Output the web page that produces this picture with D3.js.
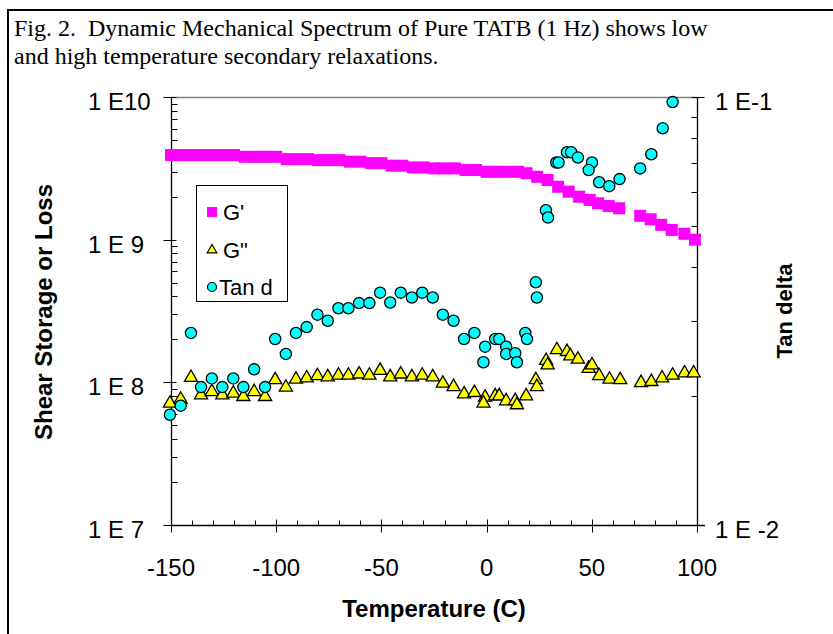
<!DOCTYPE html>
<html>
<head>
<meta charset="utf-8">
<script src="https://cdn.jsdelivr.net/npm/d3@7"></script>
<style>
  html, body { margin: 0; padding: 0; background: #fff; }
  svg { display: block; }
</style>
</head>
<body>
<svg id="chart" width="833" height="634"></svg>
<script>
// ---------------- DATA ----------------
const titleLines = [
  "Fig. 2.  Dynamic Mechanical Spectrum of Pure TATB (1 Hz) shows low",
  "and high temperature secondary relaxations."
];
const xTickValues = [-150, -100, -50, 0, 50, 100];
const xTickLabels = ["-150", "-100", "-50", "0", "50", "100"];
const leftTickValues = [1e10, 1e9, 1e8, 1e7];
const leftTickLabels = ["1 E10", "1 E 9", "1 E 8", "1 E 7"];
const rightTickValues = [1e-1, 1e-2];
const rightTickLabels = ["1 E-1", "1 E -2"];
const xTitle = "Temperature (C)";
const leftTitle = "Shear Storage or Loss";
const rightTitle = "Tan delta";
const seriesNames = ["G'", "G\"", "Tan d"];

// G' (shear storage modulus)
const gStorageT = [-150, -145, -140, -135, -130, -125, -120, -115, -110, -105, -100, -95, -90, -85, -80,
  -75, -70, -65, -60, -55, -50, -45, -40, -35, -30, -25, -20, -15, -10, -5, 0, 5, 10, 15, 19,
  24, 29, 34, 39, 44, 49, 53, 58, 63, 73, 78, 83, 88, 94, 99];
const gStorageV = [3.92e9, 3.92e9, 3.92e9, 3.92e9, 3.92e9, 3.92e9, 3.92e9, 3.81e9, 3.81e9, 3.81e9, 3.81e9, 3.67e9, 3.67e9, 3.67e9, 3.61e9,
  3.61e9, 3.61e9, 3.52e9, 3.52e9, 3.44e9, 3.44e9, 3.30e9, 3.30e9, 3.21e9, 3.21e9, 3.16e9, 3.16e9, 3.16e9, 3.08e9, 3.08e9, 2.99e9, 2.99e9, 2.99e9, 2.99e9, 2.92e9,
  2.76e9, 2.62e9, 2.35e9, 2.17e9, 2.00e9, 1.90e9, 1.80e9, 1.72e9, 1.66e9, 1.47e9, 1.39e9, 1.27e9, 1.17e9, 1.10e9, 1.00e9];

// G" (shear loss modulus)
const gLossT = [-150.5, -145.4, -140.5, -135.7, -130.6, -125.6, -120.4, -115.6, -110.5, -105.3, -100.5, -95.4,
  -90.6, -85.5, -80.4, -75.5, -70.4, -65.7, -60.6, -55.7, -50.6, -45.8, -40.8, -35.5, -30.6, -25.6,
  -20.8, -15.7, -10.7, -5.8, -0.7, -1.5, 4.1, 6, 9.3, 13.6, 14.4, 18.8, 23.4, 23.9, 28.3, 29,
  33.4, 38.2, 39.8, 43.4, 48.5, 50.1, 53.5, 58.4, 63.5, 73.4, 78.3, 83.4, 88.4, 94.1, 98.4];
const gLossV = [7.13e7, 7.60e7, 1.08e8, 8.15e7, 8.59e7, 8.15e7, 8.38e7, 7.93e7, 8.59e7, 7.93e7, 1.04e8, 9.22e7,
  1.05e8, 1.07e8, 1.11e8, 1.09e8, 1.12e8, 1.12e8, 1.14e8, 1.12e8, 1.21e8, 1.09e8, 1.14e8, 1.09e8, 1.12e8, 1.09e8,
  9.84e7, 9.31e7, 8.28e7, 8.46e7, 7.85e7, 7.13e7, 8.02e7, 8.02e7, 7.40e7, 7.43e7, 6.94e7, 8.02e7, 1.04e8, 9.31e7, 1.42e8, 1.32e8,
  1.69e8, 1.64e8, 1.53e8, 1.45e8, 1.25e8, 1.32e8, 1.11e8, 1.05e8, 1.04e8, 9.93e7, 1.01e8, 1.07e8, 1.12e8, 1.16e8, 1.16e8];

// Tan delta (right axis)
const tanT = [-150.5, -145.4, -140.5, -135.7, -130.6, -125.6, -120.4, -115.6, -110.5, -105.3, -100.5, -95.4,
  -90.6, -85.5, -80.4, -75.5, -70.4, -65.7, -60.6, -55.7, -50.6, -45.8, -40.8, -35.5, -30.6, -25.6,
  -20.8, -15.7, -10.7, -5.8, -0.7, -1.5, 4.1, 6, 9.3, 9.3, 13.6, 14.4, 18.4, 19.2, 23.4, 23.9,
  28.2, 29.2, 33.1, 34.2, 38.2, 40.2, 43.4, 50.1, 48.5, 53.5, 58.3, 63.2, 73, 78.3, 83.7, 88.4];
const tanV = [0.0181, 0.0190, 0.0281, 0.0210, 0.0220, 0.0210, 0.0220, 0.0210, 0.0231, 0.0210, 0.0272, 0.0251,
  0.0281, 0.0290, 0.0310, 0.0300, 0.0321, 0.0321, 0.0330, 0.0330, 0.0349, 0.0331, 0.0349, 0.0340, 0.0349, 0.0340,
  0.0310, 0.0300, 0.0272, 0.0281, 0.0261, 0.0240, 0.0272, 0.0272, 0.0261, 0.0251, 0.0252, 0.0240, 0.0281, 0.0272, 0.0369, 0.0340,
  0.0544, 0.0523, 0.0703, 0.0703, 0.0743, 0.0743, 0.0722, 0.0703, 0.0675, 0.0632, 0.0619, 0.0643, 0.0681, 0.0735, 0.0845, 0.0973];

// ---------------- CHART ----------------
const svg = d3.select("#chart");
const plot = { left: 171, right: 697, top: 97, bottom: 525 };

const x = d3.scaleLinear().domain([-150, 100]).range([plot.left, plot.right]);
const yL = d3.scaleLog().domain([1e7, 1e10]).range([plot.bottom, plot.top]);
const yR = d3.scaleLog().domain([1e-2, 1e-1]).range([plot.bottom, plot.top]);

const sans = "Arial, 'Liberation Sans', Helvetica, sans-serif";
const serif = "'Times New Roman', 'Liberation Serif', serif";

// outer frame (top and left edges)
svg.append("line").attr("x1", 8).attr("y1", 10).attr("x2", 833).attr("y2", 10)
  .attr("stroke", "#000").attr("stroke-width", 2);
svg.append("line").attr("x1", 8).attr("y1", 9).attr("x2", 8).attr("y2", 634)
  .attr("stroke", "#000").attr("stroke-width", 2);

// title
svg.append("g").selectAll("text").data(titleLines).join("text")
  .attr("x", 14).attr("y", (d, i) => 36 + i * 28)
  .attr("font-family", serif).attr("font-size", 24)
  .style("white-space", "pre")
  .text(d => d);

// plot area top border (gray)
svg.append("line").attr("x1", plot.left).attr("x2", plot.right)
  .attr("y1", plot.top + 0.5).attr("y2", plot.top + 0.5)
  .attr("stroke", "#808080").attr("stroke-width", 1.5);

const axisG = svg.append("g").attr("stroke", "#000").attr("stroke-width", 1);

// left axis
const lx = Math.round(x(-150)) + 0.5;
axisG.append("line").attr("x1", lx).attr("x2", lx).attr("y1", plot.top).attr("y2", plot.bottom).attr("stroke-width", 1.3);
const leftMinor = [];
for (let e = 7; e < 10; e++) for (let m = 2; m <= 9; m++) leftMinor.push(m * Math.pow(10, e));
axisG.selectAll(".lmin").data(leftMinor).join("line")
  .attr("x1", lx).attr("x2", lx + 6)
  .attr("y1", d => Math.round(yL(d)) + 0.5).attr("y2", d => Math.round(yL(d)) + 0.5);
axisG.selectAll(".lmaj").data(leftTickValues).join("line")
  .attr("x1", lx - 8).attr("x2", lx + 5)
  .attr("y1", d => Math.round(yL(d)) + 0.5).attr("y2", d => Math.round(yL(d)) + 0.5);

// right axis
const rx = Math.round(x(100)) + 0.5;
axisG.append("line").attr("x1", rx).attr("x2", rx).attr("y1", plot.top).attr("y2", plot.bottom).attr("stroke-width", 1.3);
const rightMinor = [];
for (let m = 2; m <= 9; m++) rightMinor.push(m * 0.01);
axisG.selectAll(".rmin").data(rightMinor).join("line")
  .attr("x1", rx - 6).attr("x2", rx)
  .attr("y1", d => Math.round(yR(d)) + 0.5).attr("y2", d => Math.round(yR(d)) + 0.5);
axisG.selectAll(".rmaj").data(rightTickValues).join("line")
  .attr("x1", rx - 6).attr("x2", rx + 7)
  .attr("y1", d => Math.round(yR(d)) + 0.5).attr("y2", d => Math.round(yR(d)) + 0.5);

// bottom axis
const by = Math.round(yL(1e7)) + 0.5;
axisG.append("line").attr("x1", plot.left).attr("x2", plot.right + 8).attr("y1", by).attr("y2", by).attr("stroke-width", 1.3);
const xMinor = d3.range(-140, 100, 10).filter(v => v % 50 !== 0);
axisG.selectAll(".xmin").data(xMinor).join("line")
  .attr("x1", d => Math.round(x(d)) + 0.5).attr("x2", d => Math.round(x(d)) + 0.5)
  .attr("y1", by - 5).attr("y2", by);
axisG.selectAll(".xmaj").data(xTickValues).join("line")
  .attr("x1", d => Math.round(x(d)) + 0.5).attr("x2", d => Math.round(x(d)) + 0.5)
  .attr("y1", by - 6).attr("y2", by + 7);

// tick labels
svg.append("g").selectAll("text").data(xTickValues).join("text")
  .attr("x", d => x(d)).attr("y", 576)
  .attr("text-anchor", "middle").attr("font-family", sans).attr("font-size", 24)
  .text((d, i) => xTickLabels[i]);
svg.append("g").selectAll("text").data(leftTickValues).join("text")
  .attr("x", 88).attr("y", d => yL(d) + 13)
  .attr("font-family", sans).attr("font-size", 24)
  .style("white-space", "pre")
  .text((d, i) => leftTickLabels[i]);
svg.append("g").selectAll("text").data(rightTickValues).join("text")
  .attr("x", 715).attr("y", d => yR(d) + 13)
  .attr("font-family", sans).attr("font-size", 24)
  .style("white-space", "pre")
  .text((d, i) => rightTickLabels[i]);

// axis titles
svg.append("text").attr("x", (plot.left + plot.right) / 2).attr("y", 617)
  .attr("text-anchor", "middle").attr("font-family", sans).attr("font-weight", "bold").attr("font-size", 24)
  .text(xTitle);
svg.append("text").attr("transform", `translate(52, ${(plot.top + plot.bottom) / 2 + 1}) rotate(-90)`)
  .attr("text-anchor", "middle").attr("font-family", sans).attr("font-weight", "bold").attr("font-size", 24)
  .text(leftTitle);
svg.append("text").attr("transform", `translate(792, ${(plot.top + plot.bottom) / 2}) rotate(-90)`)
  .attr("text-anchor", "middle").attr("font-family", sans).attr("font-weight", "bold").attr("font-size", 22)
  .text(rightTitle);

// ---------------- MARKS ----------------
const marks = svg.append("g");
// G' squares
marks.append("g").selectAll("rect").data(gStorageT).join("rect")
  .attr("x", d => x(d) - 6).attr("y", (d, i) => yL(gStorageV[i]) - 6)
  .attr("width", 12).attr("height", 12)
  .attr("fill", "#FF00FF");
// G" triangles
const tri = d3.symbol().type(d3.symbolTriangle).size(75);
marks.append("g").selectAll("path").data(gLossT).join("path")
  .attr("transform", (d, i) => `translate(${x(d)},${yL(gLossV[i])})`)
  .attr("d", tri)
  .attr("fill", "#FFFF00").attr("stroke", "#000").attr("stroke-width", 1.3);
// Tan d circles
marks.append("g").selectAll("circle").data(tanT).join("circle")
  .attr("cx", d => x(d)).attr("cy", (d, i) => yR(tanV[i]))
  .attr("r", 5.6)
  .attr("fill", "#00FFFF").attr("stroke", "#000").attr("stroke-width", 1.3);

// ---------------- LEGEND ----------------
const leg = svg.append("g");
leg.append("rect").attr("x", 196.5).attr("y", 185.5).attr("width", 91).attr("height", 116)
  .attr("fill", "#fff").attr("stroke", "#000").attr("stroke-width", 1);
const legY = [212, 250, 287];
leg.append("rect").attr("x", 207).attr("y", legY[0] - 5).attr("width", 10).attr("height", 10).attr("fill", "#FF00FF");
leg.append("path").attr("transform", `translate(212,${legY[1]})`)
  .attr("d", d3.symbol().type(d3.symbolTriangle).size(40))
  .attr("fill", "#FFFF00").attr("stroke", "#000").attr("stroke-width", 1.2);
leg.append("circle").attr("cx", 212).attr("cy", legY[2]).attr("r", 4.5)
  .attr("fill", "#00FFFF").attr("stroke", "#000").attr("stroke-width", 1.2);
leg.selectAll("text").data(seriesNames).join("text")
  .attr("x", (d, i) => i === 2 ? 219 : 223).attr("y", (d, i) => legY[i] + 8)
  .attr("font-family", sans).attr("font-size", 22)
  .text(d => d);
</script>
</body>
</html>
